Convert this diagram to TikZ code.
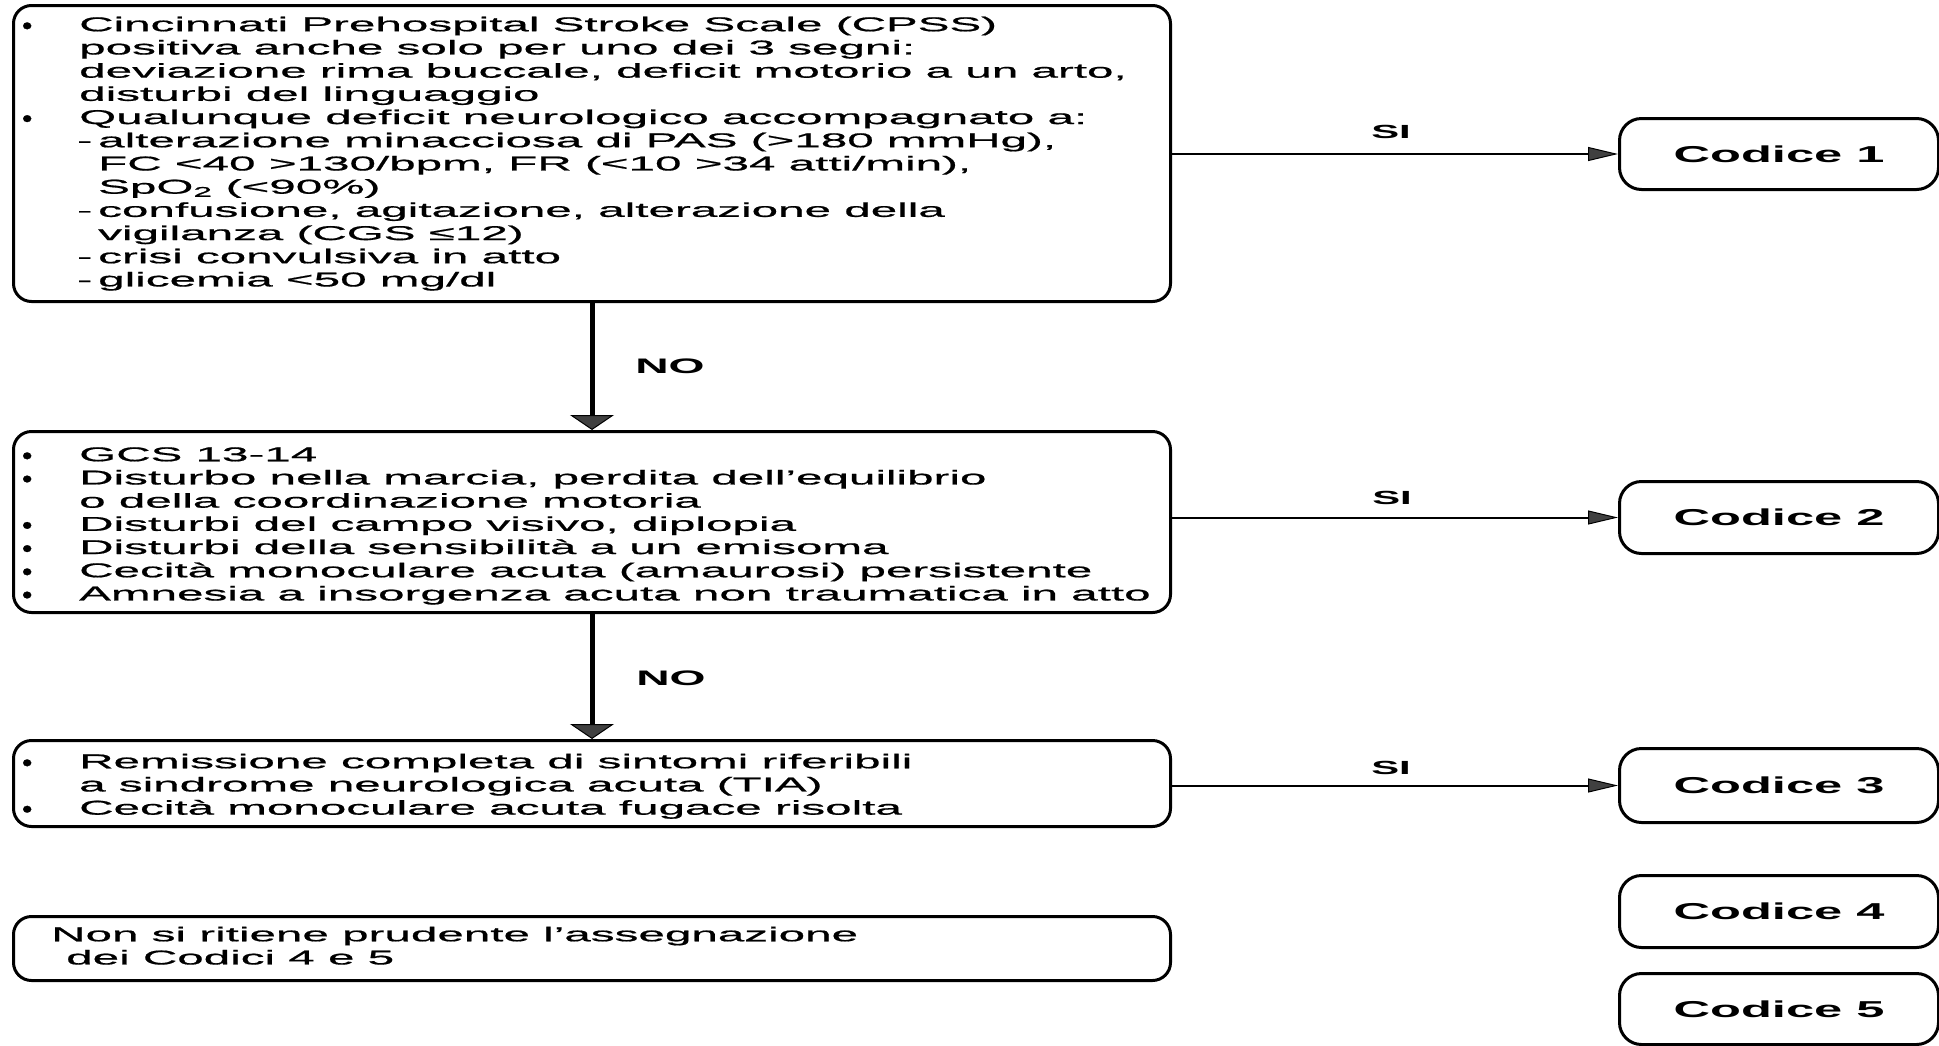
\documentclass[tikz,border=0pt]{standalone}
\usepackage{fontspec}
\usepackage{graphicx}
\setmainfont{Liberation Sans}
\newfontfamily\bodyfont{Liberation Sans}[FakeStretch=2.38,FakeBold=0.8]
\newfontfamily\labfont{Liberation Sans}[FakeStretch=2.2]
\usetikzlibrary{arrows.meta}
\newcommand\mybul{\makebox[57pt][l]{\raisebox{-2.5pt}[0pt][0pt]{\scalebox{0.6}[1.2]{\bfseries •}}}}
\newcommand\myind{\hspace*{57pt}}
\newcommand\mydsh{\hspace*{57pt}\makebox[19pt][l]{\scalebox{0.42}[1]{–}}}
\newcommand\myindd{\hspace*{76pt}}
\begin{document}
\begin{tikzpicture}[x=1pt,y=-1pt,
  bigbox/.style={draw, line width=3pt, rounded corners=18pt, anchor=north west, inner sep=0pt},
  codbox/.style={draw, line width=3pt, rounded corners=22pt, anchor=north west, inner sep=0pt,
     font=\labfont\bfseries\fontsize{23}{23}\selectfont},
  body/.style={anchor=north west, inner sep=0pt, align=left,
     font=\bodyfont\fontsize{20}{23.2}\selectfont},
  lab/.style={inner sep=0pt, font=\labfont\bfseries\fontsize{19}{19}\selectfont},
  harrow/.style={line width=2pt, -{Triangle[length=30pt,width=14pt,line width=1pt,fill=black!75]}},
  varrow/.style={line width=5pt, -{Triangle[length=15pt,width=44pt,line width=1pt,fill=black!75]}}]
\useasboundingbox (0,0) rectangle (1939,1045);
% left boxes
\node[bigbox, minimum width=1157pt, minimum height=296pt] (b1) at (12,4) {};
\node[bigbox, minimum width=1157pt, minimum height=181pt] (b2) at (12,430) {};
\node[bigbox, minimum width=1157pt, minimum height=86pt] (b3) at (12,739) {};
\node[bigbox, minimum width=1157pt, minimum height=64pt] (b4) at (12,915) {};
% texts
\node[body] (t1) at (22,14.8) {\strut\mybul Cincinnati Prehospital Stroke Scale (CPSS)\\
\myind positiva anche solo per uno dei 3 segni:\\
\myind deviazione rima buccale, deficit motorio a un arto,\\
\myind disturbi del linguaggio\\
\mybul Qualunque deficit neurologico accompagnato a:\\
\mydsh alterazione minacciosa di PAS (>180 mmHg),\\
\myindd FC <40 >130/bpm, FR (<10 >34 atti/min),\\
\myindd SpO\textsubscript{2} (<90\%)\\
\mydsh confusione, agitazione, alterazione della\\
\myindd vigilanza (CGS ≤12)\\
\mydsh crisi convulsiva in atto\\
\mydsh glicemia <50 mg/dl};
\node[body] (t2) at (22,444.8) {\strut\mybul GCS 13-14\\
\mybul Disturbo nella marcia, perdita dell’equilibrio\\
\myind o della coordinazione motoria\\
\mybul Disturbi del campo visivo, diplopia\\
\mybul Disturbi della sensibilità a un emisoma\\
\mybul Cecità monoculare acuta (amaurosi) persistente\\
\mybul Amnesia a insorgenza acuta non traumatica in atto};
\node[body] (t3) at (22,751.8) {\strut\mybul Remissione completa di sintomi riferibili\\
\myind a sindrome neurologica acuta (TIA)\\
\mybul Cecità monoculare acuta fugace risolta};
\node[body] (t4) at (51,924.8) {\strut Non si ritiene prudente l’assegnazione\\
\hspace*{15pt}dei Codici 4 e 5};
% code boxes
\node[codbox, minimum width=319pt, minimum height=71pt] (c1) at (1618,117) {Codice 1};
\node[codbox, minimum width=319pt, minimum height=72pt] (c2) at (1618,480) {Codice 2};
\node[codbox, minimum width=319pt, minimum height=74pt] (c3) at (1618,747) {Codice 3};
\node[codbox, minimum width=319pt, minimum height=72pt] (c4) at (1618,874) {Codice 4};
\node[codbox, minimum width=319pt, minimum height=71pt] (c5) at (1618,972) {Codice 5};
% connectors
\draw[harrow] (c1.west -| b1.east) -- (c1.west);
\draw[harrow] (c2.west -| b2.east) -- (c2.west);
\draw[harrow] (c3.west -| b3.east) -- (c3.west);
\draw[varrow] (b1.south) -- (b2.north);
\draw[varrow] (b2.south) -- (b3.north);
% labels
\node[lab] (si1) at (1391,132) {SI};
\node[lab] (si2) at (1392,498) {SI};
\node[lab] (si3) at (1391,768) {SI};
\node[lab, font=\labfont\bfseries\fontsize{21}{21}\selectfont] (no1) at (670,366) {NO};
\node[lab, font=\labfont\bfseries\fontsize{21}{21}\selectfont] (no2) at (671,678) {NO};
\end{tikzpicture}
\end{document}
